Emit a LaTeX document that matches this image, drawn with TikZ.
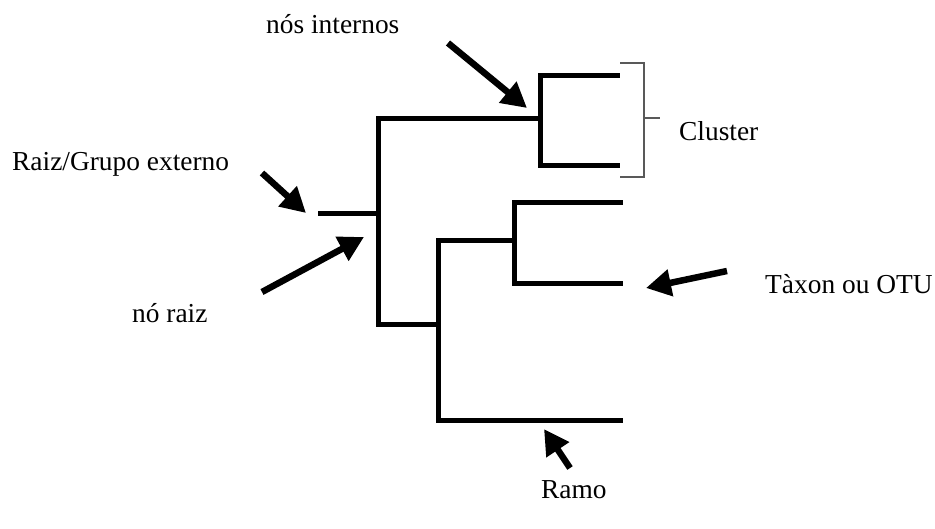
\documentclass[tikz,border=0pt]{standalone}
\usepackage{fontspec}
\setmainfont{Liberation Serif}
\usetikzlibrary{arrows.meta}
\begin{document}
\begin{tikzpicture}[x=1pt,y=-1pt,
  treeline/.style={line width=5pt,line cap=rect,black},
  bracketline/.style={line width=1.6pt,black!65},
  bigarrow/.style={line width=6.5pt,-{Triangle[length=25pt,width=26pt]},black},
  lbl/.style={anchor=base west,inner sep=0pt,font=\fontsize{27.4}{31}\selectfont}]
\useasboundingbox (0,0) rectangle (935,528);
% tree coordinates
\coordinate (r0) at (320,213);
\coordinate (r1) at (378,213);
\coordinate (vt) at (378,118);
\coordinate (vb) at (378,324);
\coordinate (c0) at (540,118);
\coordinate (ct) at (540,75);
\coordinate (cb) at (540,165);
\coordinate (l1) at (617,75);
\coordinate (l2) at (617,165);
\coordinate (b0) at (438,324);
\coordinate (bt) at (438,240);
\coordinate (bb) at (438,420);
\coordinate (m0) at (514,240);
\coordinate (mt) at (514,202);
\coordinate (mb) at (514,283);
\coordinate (l3) at (620,202);
\coordinate (l4) at (620,283);
\coordinate (l5) at (620,420);
% tree
\draw[treeline] (r0) -- (r1);
\draw[treeline] (vt) -- (vb);
\draw[treeline] (vt) -- (c0);
\draw[treeline] (ct) -- (cb);
\draw[treeline] (ct) -- (l1);
\draw[treeline] (cb) -- (l2);
\draw[treeline] (vb) -- (b0);
\draw[treeline] (bt) -- (bb);
\draw[treeline] (bt) -- (m0);
\draw[treeline] (mt) -- (mb);
\draw[treeline] (mt) -- (l3);
\draw[treeline] (mb) -- (l4);
\draw[treeline] (bb) -- (l5);
% bracket
\coordinate (k1) at (620,63);
\coordinate (k2) at (644,63);
\coordinate (k3) at (644,177);
\coordinate (k4) at (620,177);
\coordinate (km) at (644,118);
\coordinate (kt) at (660,118);
\draw[bracketline] (k1) -- (k2) -- (k3) -- (k4);
\draw[bracketline] (km) -- (kt);
% labels
\node[lbl] (tint) at (266,33) {nós internos};
\node[lbl] (traiz) at (12,170) {Raiz/Grupo externo};
\node[lbl] (tclu) at (679,140) {Cluster};
\node[lbl] (tno) at (132,322) {nó raiz};
\node[lbl] (ttax) at (765,293) {Tàxon ou OTU};
\node[lbl] (tramo) at (541,498) {Ramo};
% arrows
\coordinate (a1s) at (448,43);
\coordinate (a1e) at (527,108);
\coordinate (a2s) at (262,173);
\coordinate (a2e) at (306,213);
\coordinate (a3s) at (262,292);
\coordinate (a3e) at (364,237);
\coordinate (a4s) at (727,271);
\coordinate (a4e) at (646,288);
\coordinate (a5s) at (570,468);
\coordinate (a5e) at (544,429);
\draw[bigarrow] (a1s) -- (a1e);
\draw[bigarrow] (a2s) -- (a2e);
\draw[bigarrow] (a3s) -- (a3e);
\draw[bigarrow] (a4s) -- (a4e);
\draw[bigarrow] (a5s) -- (a5e);
\end{tikzpicture}
\end{document}
